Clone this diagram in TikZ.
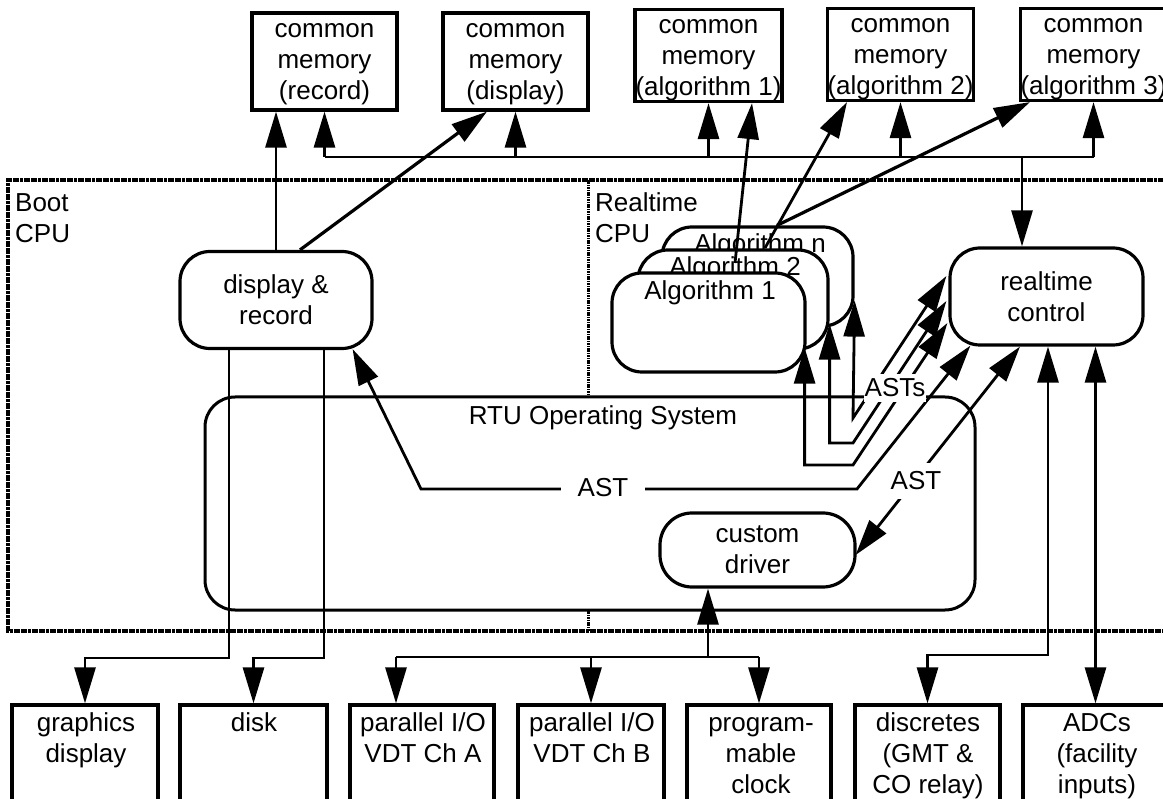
\documentclass[tikz,border=0pt]{standalone}
\usepackage{fontspec}
\setmainfont{Liberation Sans}
\usetikzlibrary{arrows.meta,calc}
\begin{document}
\begin{tikzpicture}[x=1pt,y=-1pt,
  >={Triangle[length=36pt,width=21pt]},
  ln/.style={line width=2.8pt},
  fnt/.style={font=\fontsize{26}{31}\selectfont},
  box/.style={draw, line width=3.2pt, inner sep=0pt, align=center, fnt},
  mbox/.style={box, text height=82.5pt, text depth=5.5pt},
  abox/.style={box, text height=86.5pt, text depth=5.5pt},
  rbox/.style={box, rounded corners=30pt},
  txt/.style={inner sep=0pt, align=center, fnt},
  lab/.style={fill=white, fnt},
  frm/.style={line width=3.8pt, dash pattern=on 3pt off 0.6pt},
  div/.style={line width=3pt, dash pattern=on 1.6pt off 0.8pt}]
\useasboundingbox (0,0) rectangle (1163,799);
\clip (0,0) rectangle (1163,799);
\fill[white] (0,0) rectangle (1163,799);

% frame of the CPU chassis
\draw[frm] (1175,180) -- (8,180) -- (8,631) -- (1175,631);
\draw[div] (588,180) -- (588,397);
\draw[div] (588,610) -- (588,631);

% common memories
\node[mbox, minimum width=145pt, minimum height=97pt] (mrec) at (324.5,61.5) {common\\memory\\(record)};
\node[mbox, minimum width=145pt, minimum height=97pt] (mdis) at (515.5,61.5) {common\\memory\\(display)};
\node[abox, minimum width=147pt, minimum height=89pt] (mal1) at (708.5,55.5) {common\\memory\\(algorithm 1)};
\node[abox, minimum width=145pt, minimum height=91pt] (mal2) at (900.5,54.5) {common\\memory\\(algorithm 2)};
\node[abox, minimum width=145pt, minimum height=91pt] (mal3) at (1093.5,54.5) {common\\memory\\(algorithm 3)};

% RTU operating system
\node[draw, line width=3pt, rounded corners=30pt, minimum width=770pt, minimum height=213pt, inner sep=0pt] (rtu) at (590,503.5) {};
\node[txt, anchor=base] (rtut) at (603,425) {RTU Operating System};

% CPU labels
\node[txt, anchor=north west, align=left] (boot) at (15,190) {\strut Boot\\CPU};
\node[txt, anchor=north west, align=left] (rtcpu) at (595,190) {\strut Realtime\\CPU};

% algorithm stack
\node[rbox, fill=white, minimum width=191pt, minimum height=99pt] (aln) at (757.5,276.5) {};
\node[txt, anchor=base] (alnt) at (760,253) {Algorithm n};
\node[rbox, fill=white, minimum width=190pt, minimum height=99pt] (al2) at (733,299.5) {};
\node[txt, anchor=base] (al2t) at (735,276) {Algorithm 2};
\node[rbox, fill=white, minimum width=193pt, minimum height=99pt] (al1) at (708.5,322.5) {};
\node[txt, anchor=base] (al1t) at (710,300) {Algorithm 1};

% processes
\node[rbox, minimum width=192pt, minimum height=97pt] (dr) at (276,300) {display \&\\record};
\node[rbox, minimum width=193pt, minimum height=97pt] (rc) at (1046.5,296.5) {realtime\\control};
\node[box, rounded corners=32pt, minimum width=195pt, minimum height=74pt] (cd) at (757.5,550) {custom\\driver};

% peripheral boxes
\node[box, minimum width=146pt, minimum height=135pt] (gd) at (85,772.5) {};
\node[txt, anchor=north] (gdt) at (86,709.3) {\strut graphics\\display};
\node[box, minimum width=147pt, minimum height=135pt] (dk) at (253.5,772.5) {};
\node[txt, anchor=north] (dkt) at (254,709.3) {\strut disk};
\node[box, minimum width=144pt, minimum height=135pt] (pa) at (422,772.5) {};
\node[txt, anchor=north] (pat) at (423,709.3) {\strut parallel I/O\\VDT Ch A};
\node[box, minimum width=146pt, minimum height=135pt] (pb) at (591,772.5) {};
\node[txt, anchor=north] (pbt) at (592,709.3) {\strut parallel I/O\\VDT Ch B};
\node[box, minimum width=144pt, minimum height=135pt] (ck) at (759,772.5) {};
\node[txt, anchor=north] (ckt) at (761,709.3) {\strut program-\\mable\\clock};
\node[box, minimum width=145pt, minimum height=135pt] (dc) at (927.5,772.5) {};
\node[txt, anchor=north] (dct) at (928,709.3) {\strut discretes\\(GMT \&\\CO relay)};
\node[box, minimum width=145pt, minimum height=135pt] (ad) at (1095.5,772.5) {};
\node[txt, anchor=north] (adt) at (1097,709.3) {\strut ADCs\\(facility\\inputs)};

% memory bus
\coordinate (bus) at (0,157);
\draw[ln] (mrec.south|-bus) -- (mal3.south|-bus);
\foreach \n in {mrec,mdis,mal1,mal2,mal3} \draw[ln,->] (\n.south|-bus) -- (\n.south);
\coordinate (rcin) at ($(rc.north)+(-24.5,0)$);
\draw[ln,->] (rcin|-bus) -- (rcin);

% display & record to memories
\draw[ln,->] (dr.north) -- (dr.north|-mrec.south);
\draw[ln,->,line width=3.2pt] ($(dr.north)+(24,0)$) -- ($(mdis.south)+(-28.5,0)$);

% algorithms to memories
\draw[ln,->] ($(al2.center)+(2,-36.5)$) -- ($(mal1.south)+(43.5,0)$);
\draw[ln,->] ($(aln.center)+(7.5,-28.5)$) -- ($(mal2.south)+(-53.5,0)$);
\draw[ln,->,line width=3.2pt] ($(aln.north)+(19.5,0)$) -- ($(mal3.south)+(-63.5,0)$);

% ASTs between realtime control and algorithms
\coordinate (k1) at (853,418);
\coordinate (k2) at (853,443);
\coordinate (k3) at (853,465);
\draw[ln,<->] ($(rc.west)+(-2,-20.5)$) -- (k1) -- ($(aln.south east)+(0,-27)$);
\draw[ln,<->] ($(rc.west)+(-2,4.5)$) -- (k2) -- (k2-|al2.south east) -- ($(al2.south east)+(0,-27)$);
\draw[ln,<->] ($(rc.west)+(-1,26.5)$) -- (k3) -- ($(k3-|al1.south east)+(-2,0)$) -- ($(al1.south east)+(-2,-26)$);

% AST realtime control <-> display & record
\coordinate (a1) at (857,489);
\coordinate (a2) at (421,489);
\draw[ln,<->] ($(rc.south west)+(22,-1)$) -- (a1) -- (a2) -- ($(dr.south east)+(-21,-1)$);

% AST realtime control <-> custom driver
\draw[ln,<->] ($(rc.south)+(-26.5,0)$) -- ($(cd.east)+(-1,5)$);

% realtime control to discretes and ADCs
\coordinate (t1) at (1048,655);
\draw[ln,<->] (rc.south -| t1) -- (t1) -- (t1 -| dc.north) -- (dc.north);
\draw[ln,<->] (rc.south -| ad.north) -- (ad.north);

% custom driver and I/O
\coordinate (cb) at (708,657);
\draw[ln,->] (cb) -- (cb|-cd.south);
\coordinate (paA) at ($(pa.north)+(-26,0)$);
\draw[ln] (paA|-cb) -- (ck.north|-cb);
\draw[ln,->] (paA|-cb) -- (paA);
\draw[ln,->] (pb.north|-cb) -- (pb.north);
\draw[ln,->] (ck.north|-cb) -- (ck.north);

% display & record to graphics display and disk
\coordinate (g1) at (229,658);
\coordinate (g2) at (324,658);
\draw[ln,->] (dr.south-|g1) -- (g1) -- (g1-|gd.north) -- (gd.north);
\draw[ln,->] (dr.south-|g2) -- (g2) -- (g2-|dk.north) -- (dk.north);

% labels over lines
\node[lab, inner xsep=17pt, inner ysep=3pt] (astl) at (603,488) {AST};
\node[lab, inner xsep=2pt, inner ysep=9pt] (astr) at (916,481) {AST};
\node[lab, inner xsep=1pt, inner ysep=5pt] (asts) at (895,388) {ASTs};
\end{tikzpicture}
\end{document}
